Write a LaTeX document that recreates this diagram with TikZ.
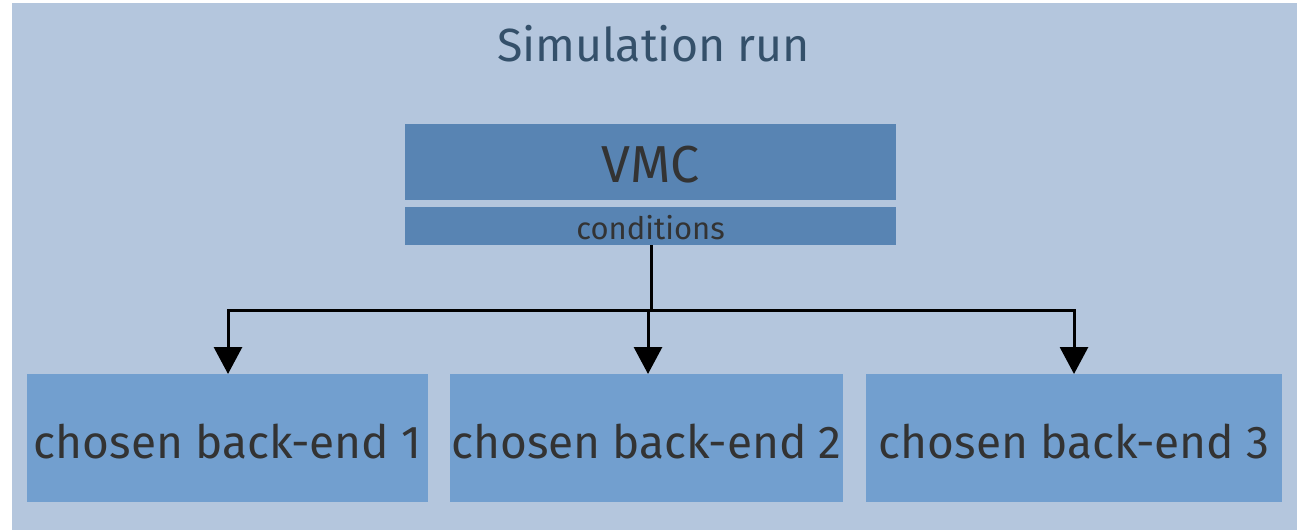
\documentclass[tikz,border=0pt]{standalone}
\usepackage{fontspec}
\setmainfont{Fira Sans}
\usetikzlibrary{arrows.meta}
\definecolor{runbg}{HTML}{B4C6DD}
\definecolor{vmcfill}{HTML}{5884B3}
\definecolor{backfill}{HTML}{729FCF}
\definecolor{titletext}{HTML}{34506A}
\definecolor{boxtext}{HTML}{333333}
\tikzset{
  vmcbox/.style={fill=vmcfill, draw=none},
  backbox/.style={fill=backfill, draw=none},
  lbl/.style={anchor=base, inner sep=0pt, text=boxtext},
  backlbl/.style={lbl, font=\fontsize{46}{52}\selectfont},
  link/.style={line width=3pt, black},
  tip/.style={-{Triangle[length=27pt, width=28pt]}},
}
\begin{document}
\begin{tikzpicture}[x=1pt, y=-1pt]
  \useasboundingbox (0,0) rectangle (1297,530);
  % outer frame of the run
  \fill[runbg] (12,3) rectangle (1297,530);
  \node[lbl, text=titletext, font=\fontsize{46.5}{52}\selectfont] (title) at (653.5,61) {Simulation run};

  % VMC block with its conditions strip
  \path[vmcbox] (405,124) rectangle (896,200);
  \path[vmcbox] (405,207) rectangle (896,245);
  \coordinate (cond) at (651,245);
  \node[lbl, font=\fontsize{52}{58}\selectfont] (vmclbl) at (650.5,182) {VMC};
  \node[lbl, font=\fontsize{31}{36}\selectfont] (condlbl) at (650.5,239) {conditions};

  % back-ends
  \path[backbox] (27,374) rectangle (428,502);
  \path[backbox] (450,374) rectangle (843,502);
  \path[backbox] (866,374) rectangle (1282,502);
  \coordinate (b1) at (228,374);
  \coordinate (b2) at (648,374);
  \coordinate (b3) at (1074,374);
  \node[backlbl] (l1) at (227.5,458) {chosen back-end 1};
  \node[backlbl] (l2) at (646.5,458) {chosen back-end 2};
  \node[backlbl] (l3) at (1074,458) {chosen back-end 3};

  % fan-out from the conditions strip
  \coordinate (split) at (651,310);
  \draw[link] (cond) -- (split);
  \draw[link, tip] (split) -| (b1);
  \draw[link, tip] (split) -| (b2);
  \draw[link, tip] (split) -| (b3);
\end{tikzpicture}
\end{document}
